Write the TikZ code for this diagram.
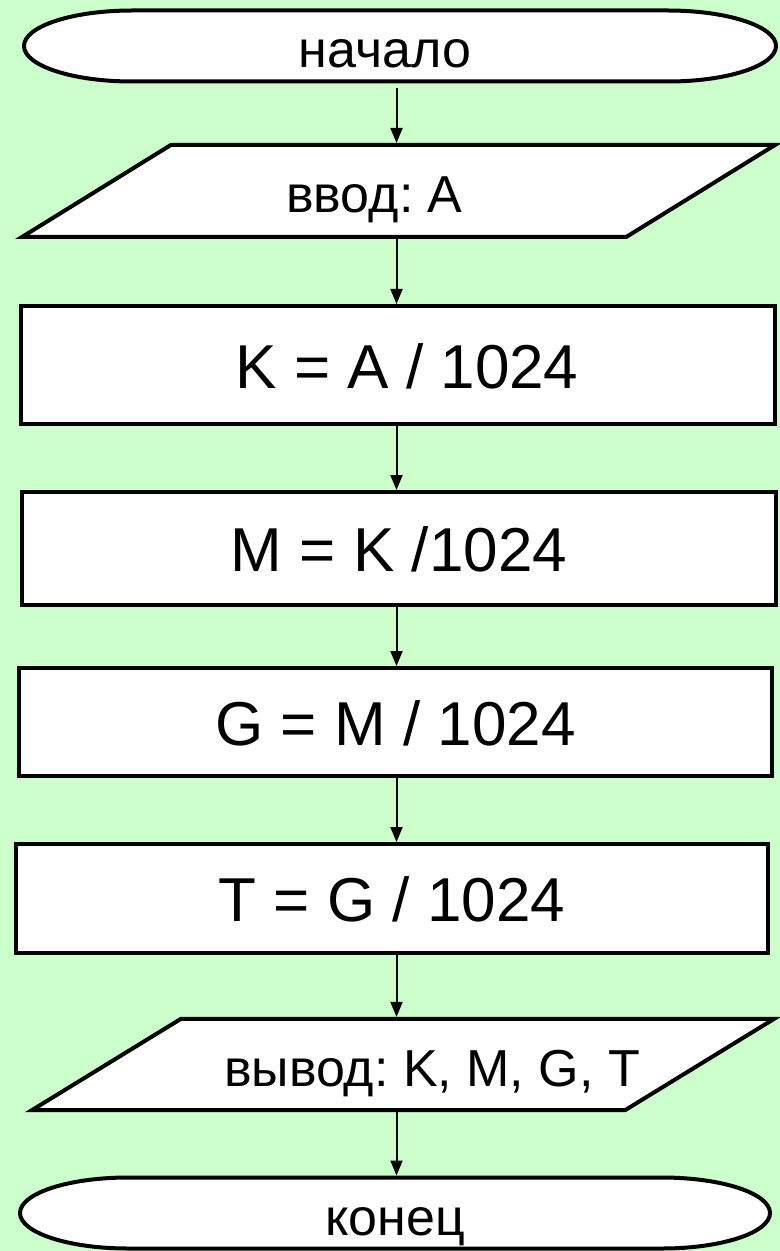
\documentclass[tikz,border=0pt]{standalone}
\usepackage{fontspec}
\setmainfont{Liberation Sans}
\usepackage{tikz}
\usetikzlibrary{arrows.meta}
\usetikzlibrary{shapes.geometric}
\usetikzlibrary{calc}
\definecolor{bggreen}{RGB}{204,255,204}
\tikzset{basic block/.style={draw,line width=2pt,fill=white,inner sep=0pt,outer sep=1pt}}
\tikzset{process/.style={basic block,rectangle,
                         font=\fontsize{31}{36}\selectfont,
                         text height=23pt,text depth=0pt}}
\tikzset{io/.style={basic block,trapezium,
                    inner ysep=11.8pt,
                    trapezium left angle=31.5,
                    trapezium right angle=148.5,
                    trapezium stretches body=true,
                    font=\fontsize{26}{30}\selectfont,
                    text height=22pt,text depth=0pt}}
\tikzset{terminal/.style={inner sep=0pt,outer sep=1pt,
                          font=\fontsize{26}{30}\selectfont,
                          text height=22pt,text depth=0pt}}
\tikzset{flow/.style={draw,line width=1pt,-{Triangle[length=7.5pt,width=6pt]}}}
\tikzset{text shift/.style={execute at begin node={\hspace*{#1}},
                            execute at end node={\hspace*{-#1}}}}
% terminal outline: #1 centre, #2 half length of the flat part
\newcommand{\TermOutline}[2]{%
  \filldraw[line width=2pt,fill=white]
  ($#1+(-#2,35.5)$) -- ($#1+(#2,35.5)$)
  arc[start angle=90,end angle=-90,x radius=108,y radius=35.5]
  -- ($#1+(-#2,-35.5)$)
  arc[start angle=270,end angle=90,x radius=108,y radius=35.5] -- cycle;}

\begin{document}
\frenchspacing
\begin{tikzpicture}[x=0.5pt,y=0.5pt]

      % background
      \fill [bggreen] (0,0) rectangle (780,-1251);
      \useasboundingbox (0,0) rectangle (780,-1251);

      % blocks
      \TermOutline{(400,-46)}{268}
      \node [terminal,minimum width=376pt,minimum height=35.5pt,text shift=-7.5pt]
      (start) at (400,-46) {начало};

      \node [io,minimum width=376.5pt,minimum height=46pt,text shift=-12pt]
      (in) at (398.5,-191) {ввод: А};

      \node [process,minimum width=377pt,minimum height=59pt,text shift=4.5pt]
      (K) at (398,-365) {K = A / 1024};
      \node [process,minimum width=377pt,minimum height=56.5pt]
      (M) at (399,-548.5) {M = K /1024};
      \node [process,minimum width=376.5pt,minimum height=54pt]
      (G) at (395.5,-722) {G = M / 1024};
      \node [process,minimum width=376pt,minimum height=54.5pt]
      (T) at (392,-898.5) {T = G / 1024};

      \node [io,minimum width=371pt,minimum height=45.5pt,text shift=14.5pt]
      (out) at (403,-1064.5) {вывод: K, M, G, T};

      \TermOutline{(395,-1213)}{267}
      \node [terminal,minimum width=375pt,minimum height=35.5pt]
      (end) at (395,-1213) {конец};

      % arrows
      \coordinate (axis) at (396.5,0);
      \draw [flow,shorten <=2.5pt] (start.south -| axis) -- (in.north -| axis);
      \draw [flow] (in.south -| axis) -- (K.north -| axis);
      \draw [flow] (K.south -| axis) -- (M.north -| axis);
      \draw [flow] (M.south -| axis) -- (G.north -| axis);
      \draw [flow] (G.south -| axis) -- (T.north -| axis);
      \draw [flow] (T.south -| axis) -- (out.north -| axis);
      \draw [flow] (out.south -| axis) -- (end.north -| axis);

\end{tikzpicture}
\end{document}
